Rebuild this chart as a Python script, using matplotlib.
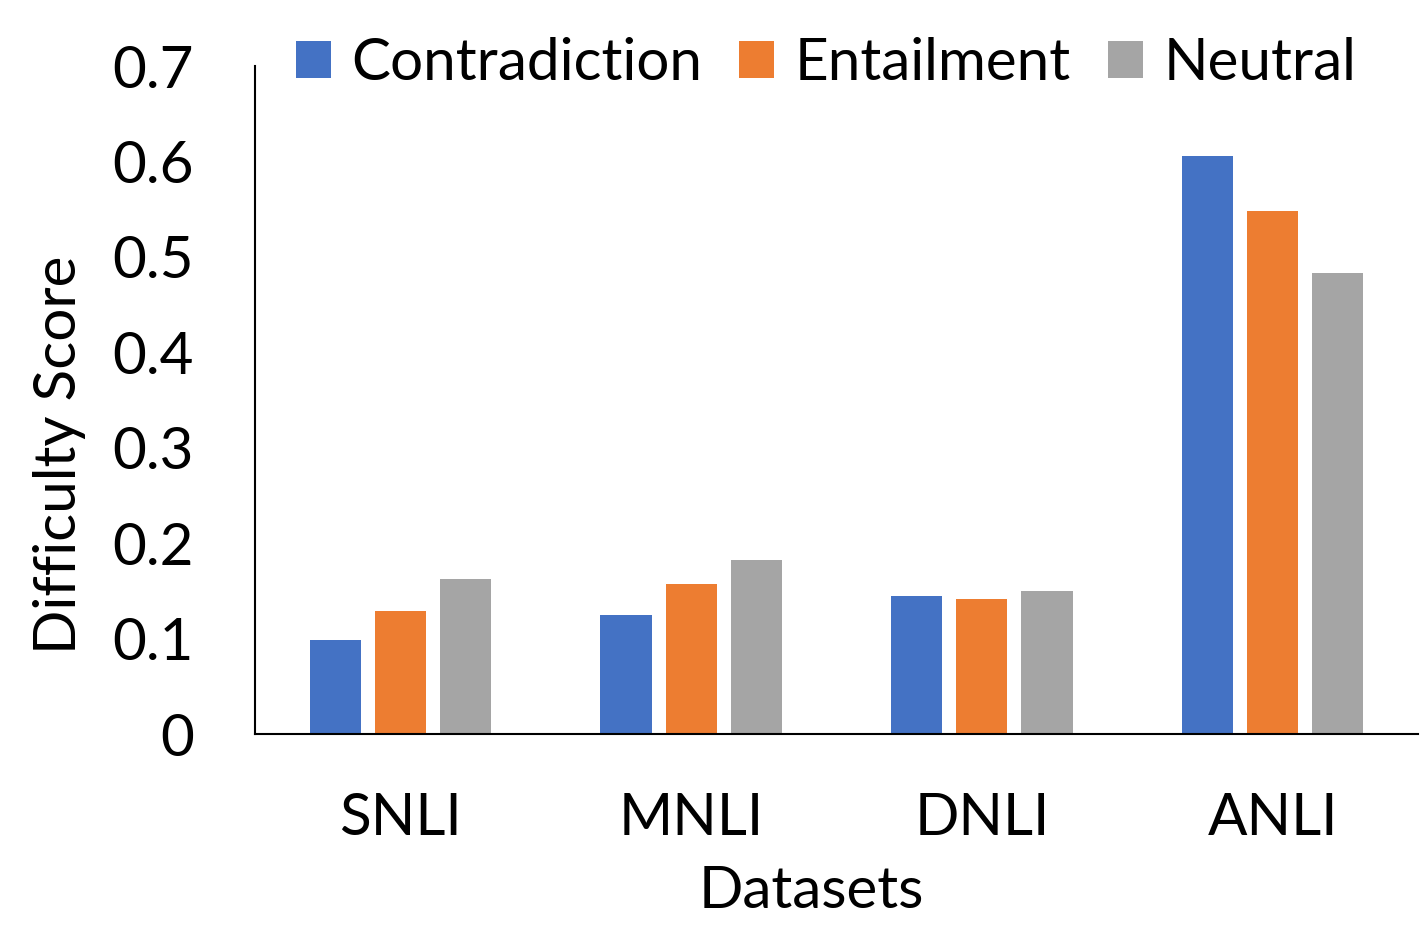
import numpy as np
from matplotlib import pyplot as plt

datasets = ['SNLI', 'MNLI', 'DNLI', 'ANLI']
contradiction = [0.098, 0.125, 0.145, 0.606]
entailment = [0.129, 0.157, 0.141, 0.548]
neutral = [0.162, 0.182, 0.150, 0.483]

plt.rcParams['font.family'] = ['Lato', 'DejaVu Sans']
plt.rcParams['font.size'] = 42

fig = plt.figure(figsize=(14.25, 9.35), dpi=100)
ax = fig.add_axes([255 / 1425, 1 - 734 / 935, 1163 / 1425, (734 - 66) / 935])

x = np.arange(len(datasets))
w = 0.176
step = 0.224
ax.bar(x - step, contradiction, w, color='#4472C4', label='Contradiction')
ax.bar(x, entailment, w, color='#ED7D31', label='Entailment')
ax.bar(x + step, neutral, w, color='#A5A5A5', label='Neutral')

ax.set_xlim(-0.5, 3.5)
ax.set_ylim(0, 0.7)
ax.set_yticks([0, 0.1, 0.2, 0.3, 0.4, 0.5, 0.6, 0.7])
ax.set_yticklabels(['0', '0.1', '0.2', '0.3', '0.4', '0.5', '0.6', '0.7'])
ax.set_xticks(x)
ax.set_xticklabels(datasets)
ax.tick_params(length=0, labelsize=42)
ax.tick_params(axis='x', pad=42)
ax.tick_params(axis='y', pad=44)

ax.spines['top'].set_visible(False)
ax.spines['right'].set_visible(False)
ax.spines['left'].set_linewidth(1.5)
ax.spines['bottom'].set_linewidth(1.5)

ax.set_xlabel('Datasets', fontsize=42)
ax.set_ylabel('Difficulty Score', fontsize=42)
ax.xaxis.set_label_coords(0.478, -0.196)
ax.yaxis.set_label_coords(-0.145, 0.418)

ax.legend(loc='upper center', bbox_to_anchor=(0.491, 1.105), ncol=3, frameon=False,
          fontsize=42, handlelength=0.6, handleheight=0.6, handletextpad=0.35,
          columnspacing=0.64, borderpad=0.2)

fig.savefig('out.png', dpi=100)
